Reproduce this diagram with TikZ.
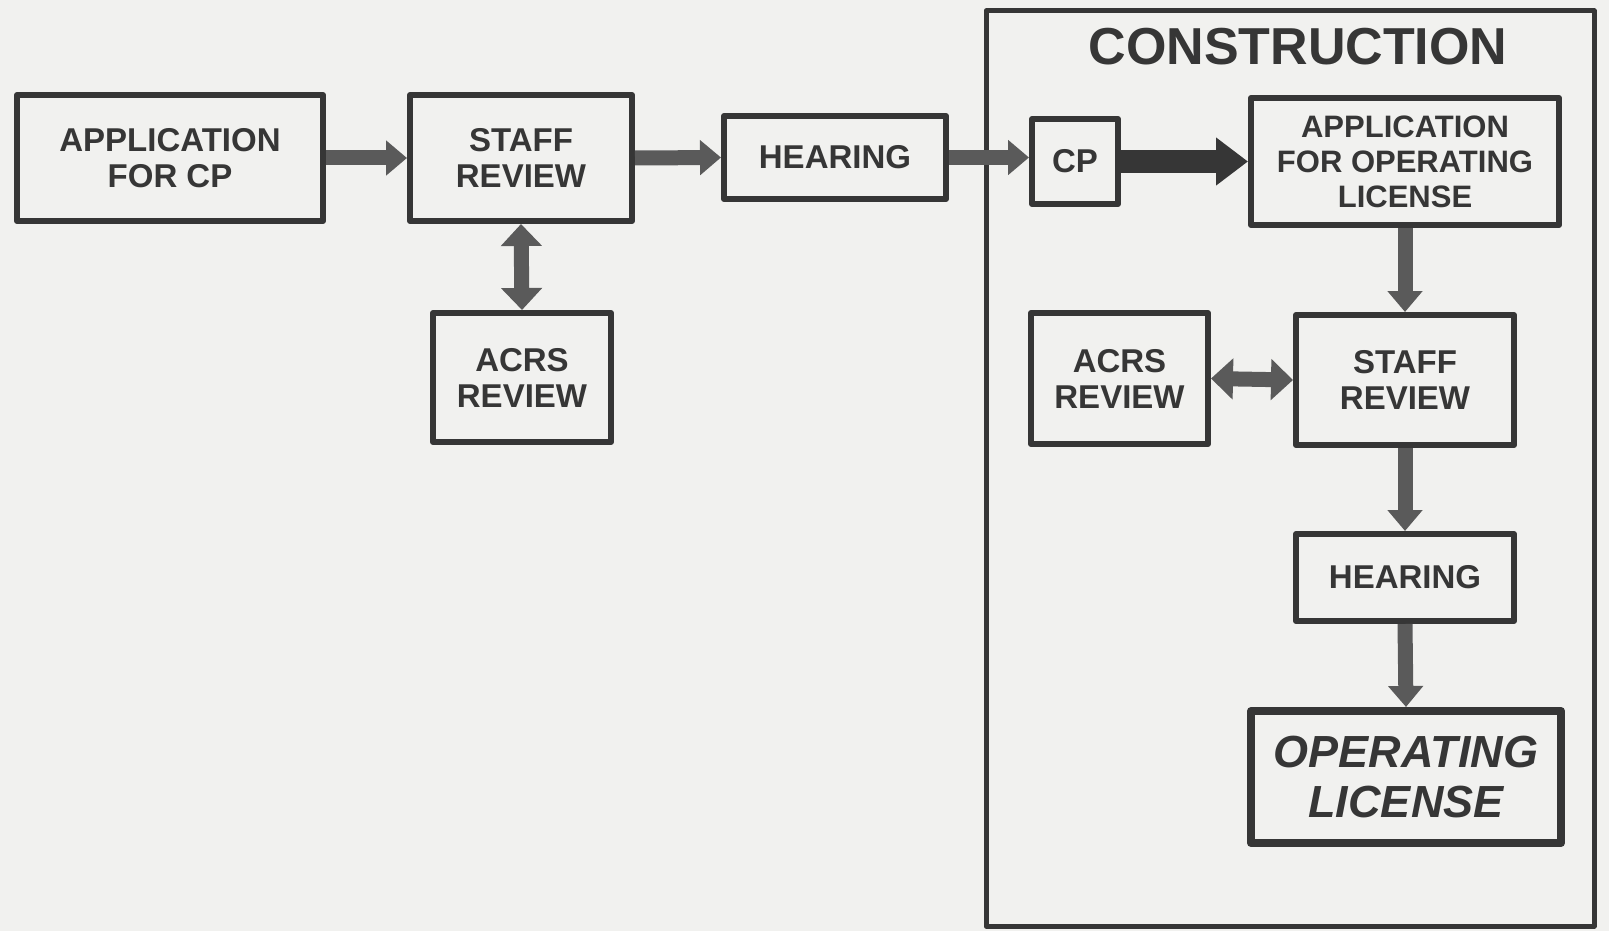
\documentclass[tikz,border=0pt]{standalone}
\usepackage{fontspec}
\setmainfont{Liberation Sans}
\usetikzlibrary{arrows.meta}
\definecolor{ink}{HTML}{363636}
\definecolor{pipe}{HTML}{5A5A5A}
\definecolor{paper}{HTML}{F1F1EF}
\begin{document}
\begin{tikzpicture}[x=1pt, y=-1pt, line join=round,
		box/.style={draw=ink, line width=6pt, text=ink, align=center, inner sep=0pt,
			font=\fontsize{33}{36}\selectfont\bfseries},
		flow/.style={draw=pipe, line width=15pt, -{Triangle[length=21pt,width=34pt]}},
		twoway/.style={draw=pipe, line width=15pt, {Triangle[length=22pt,width=40pt]}-{Triangle[length=22pt,width=40pt]}}]
			\fill[paper] (0,0) rectangle (1609,931);
			\useasboundingbox (0,0) rectangle (1609,931);
			\draw[ink, line width=5pt] (986,11) rectangle (1594,926);
			\node[text=ink, font=\fontsize{52}{56}\selectfont\bfseries] (title) at (1298,47) {CONSTRUCTION};
			\node[box, minimum width=306pt, minimum height=126pt] (appcp) at (170,158) {APPLICATION\\FOR CP};
			\node[box, minimum width=222pt, minimum height=126pt] (staffL) at (521,158) {STAFF\\REVIEW};
			\node[box, minimum width=222pt, minimum height=83pt] (hearL) at (835,157.5) {HEARING};
			\node[box, minimum width=178pt, minimum height=129pt] (acrsL) at (522,377.5) {ACRS\\REVIEW};
			\node[box, minimum width=86pt, minimum height=85pt] (cp) at (1075,161.5) {CP};
			\node[box, minimum width=308pt, minimum height=127pt,
				font=\fontsize{31}{35}\selectfont\bfseries] (appol) at (1405,161.5) {APPLICATION\\FOR OPERATING\\LICENSE};
			\node[box, minimum width=177pt, minimum height=131pt] (acrsR) at (1119.5,378.5) {ACRS\\REVIEW};
			\node[box, minimum width=218pt, minimum height=130pt] (staffR) at (1405,380) {STAFF\\REVIEW};
			\node[box, minimum width=218pt, minimum height=87pt] (hearR) at (1405,577.5) {HEARING};
			\node[box, line width=8pt, minimum width=310pt, minimum height=132pt,
				font=\fontsize{45}{50}\selectfont\bfseries\itshape] (oplic) at (1406,777) {OPERATING\\LICENSE};
			\draw[flow] (appcp.east) -- (staffL.west);
			\draw[flow] (staffL.east) -- (hearL.west);
			\draw[flow] (hearL.east) -- (hearL.east -| cp.west);
			\draw[flow, draw=ink, line width=22pt, -{Triangle[length=32pt,width=46pt]}] (cp.east) -- (appol.west |- cp.east);
			\draw[twoway] (staffL.south) -- (acrsL.north);
			\draw[twoway] (acrsR.east) -- (staffR.west);
			\draw[flow] (appol.south) -- (staffR.north);
			\draw[flow] (staffR.south) -- (hearR.north);
			\draw[flow] (hearR.south) -- (oplic.north);
		\end{tikzpicture}
\end{document}
